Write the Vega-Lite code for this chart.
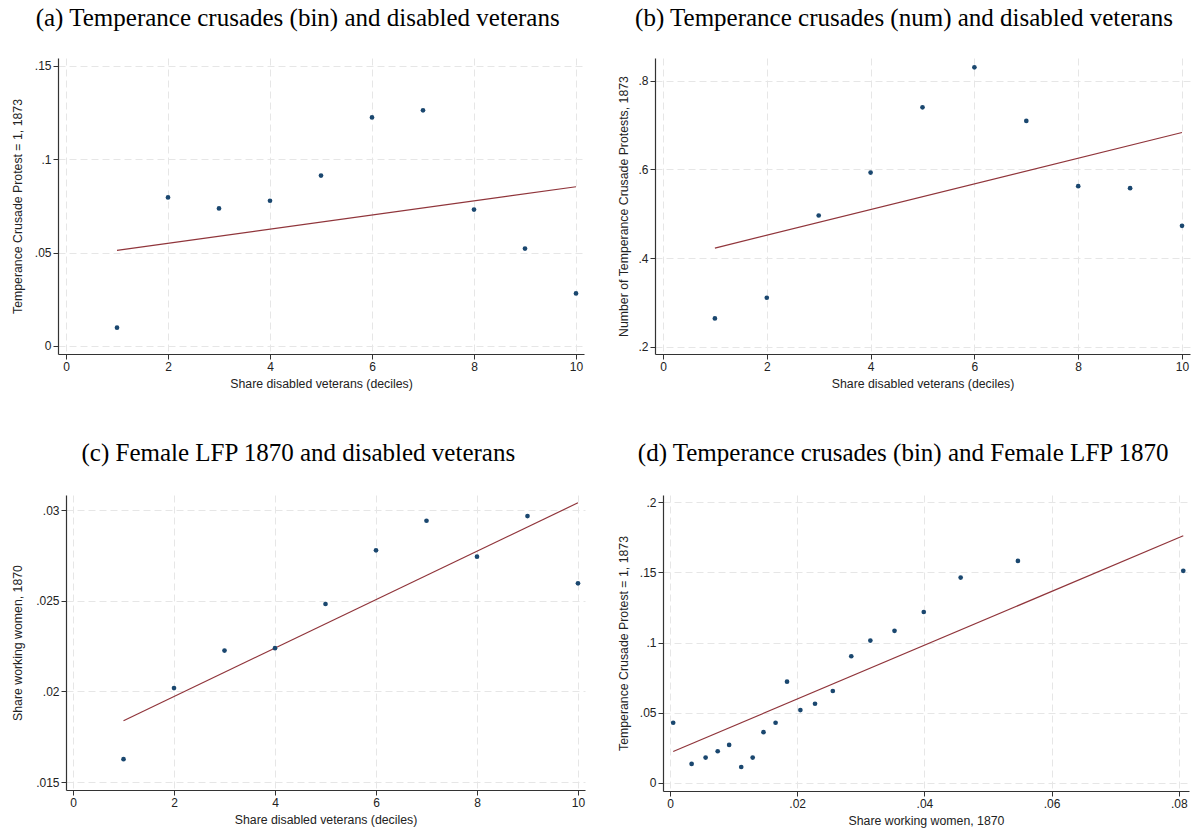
{
  "$schema": "https://vega.github.io/schema/vega-lite/v6.json",
  "background": "white",
  "padding": {"left": 10, "top": 6, "right": 4, "bottom": 4},
  "config": {
    "view": {"stroke": null},
    "font": "Liberation Sans",
    "title": {"font": "Liberation Serif", "fontSize": 25, "fontWeight": "normal", "color": "#000", "anchor": "middle", "frame": "bounds", "offset": 27},
    "axis": {"labelFont": "Liberation Sans", "labelFontSize": 12, "labelColor": "#222", "titleFont": "Liberation Sans", "titleFontSize": 12.3, "titleFontWeight": "normal", "titleColor": "#222", "domainColor": "#333", "domainWidth": 1.2, "tickColor": "#333", "tickSize": 5, "tickWidth": 1, "labelPadding": 2, "labelFlush": false, "gridColor": "#e6e6e6", "gridDash": [7, 4], "gridWidth": 1, "titlePadding": 6}
  },
  "spacing": 31,
  "hconcat": [
    {
      "columns": 2,
      "align": "none",
      "spacing": {"row": 50, "column": 0},
      "concat": [
        {"width": 1, "height": 1, "data": {"values": []}, "mark": "point", "encoding": {}},
        {
          "title": "(a) Temperance crusades (bin) and disabled veterans",
          "width": 526, "height": 296,
          "data": {"values": [
            {"series": "bin", "x": 1, "y": 0.0098}, {"series": "bin", "x": 2, "y": 0.0795}, {"series": "bin", "x": 3, "y": 0.0736},
            {"series": "bin", "x": 4, "y": 0.0777}, {"series": "bin", "x": 5, "y": 0.0912}, {"series": "bin", "x": 6, "y": 0.1223},
            {"series": "bin", "x": 7, "y": 0.1261}, {"series": "bin", "x": 8, "y": 0.073}, {"series": "bin", "x": 9, "y": 0.0521},
            {"series": "bin", "x": 10, "y": 0.0281},
            {"series": "fit", "x": 1, "y": 0.0512}, {"series": "fit", "x": 10, "y": 0.0852}
          ]},
          "encoding": {
            "x": {"field": "x", "type": "quantitative", "scale": {"domain": [-0.157, 10.157], "nice": false, "zero": false},
                  "axis": {"values": [0, 2, 4, 6, 8, 10], "title": "Share disabled veterans (deciles)", "titlePadding": 5}},
            "y": {"field": "y", "type": "quantitative", "scale": {"domain": [-0.0043, 0.1541], "nice": false, "zero": false},
                  "axis": {"values": [0, 0.05, 0.1, 0.15], "title": "Temperance Crusade Protest = 1, 1873", "titlePadding": 10,
                           "labelExpr": "datum.value == 0 ? '0' : slice(format(datum.value, '~r'), 1)"}}
          },
          "layer": [
            {"transform": [{"filter": "datum.series == 'fit'"}], "mark": {"type": "line", "color": "#90353b", "strokeWidth": 1.2}},
            {"transform": [{"filter": "datum.series == 'bin'"}], "mark": {"type": "point", "filled": true, "size": 22, "color": "#1a476f", "opacity": 1}}
          ]
        },
        {"width": 1, "height": 1, "data": {"values": []}, "mark": "point", "encoding": {}},
        {
          "title": {"text": "(c) Female LFP 1870 and disabled veterans", "offset": 29.5},
          "width": 519, "height": 295,
          "data": {"values": [
            {"series": "bin", "x": 1, "y": 0.01626}, {"series": "bin", "x": 2, "y": 0.02018}, {"series": "bin", "x": 3, "y": 0.02225},
            {"series": "bin", "x": 4, "y": 0.02238}, {"series": "bin", "x": 5, "y": 0.02482}, {"series": "bin", "x": 6, "y": 0.02778},
            {"series": "bin", "x": 7, "y": 0.02941}, {"series": "bin", "x": 8, "y": 0.02743}, {"series": "bin", "x": 9, "y": 0.02967},
            {"series": "bin", "x": 10, "y": 0.02596},
            {"series": "fit", "x": 1, "y": 0.01838}, {"series": "fit", "x": 10, "y": 0.0304}
          ]},
          "encoding": {
            "x": {"field": "x", "type": "quantitative", "scale": {"domain": [-0.139, 10.139], "nice": false, "zero": false},
                  "axis": {"values": [0, 2, 4, 6, 8, 10], "title": "Share disabled veterans (deciles)", "titlePadding": 5}},
            "y": {"field": "y", "type": "quantitative", "scale": {"domain": [0.01456, 0.03083], "nice": false, "zero": false},
                  "axis": {"values": [0.015, 0.02, 0.025, 0.03], "title": "Share working women, 1870", "titlePadding": 11,
                           "labelExpr": "datum.value == 0 ? '0' : slice(format(datum.value, '~r'), 1)"}}
          },
          "layer": [
            {"transform": [{"filter": "datum.series == 'fit'"}], "mark": {"type": "line", "color": "#90353b", "strokeWidth": 1.2}},
            {"transform": [{"filter": "datum.series == 'bin'"}], "mark": {"type": "point", "filled": true, "size": 22, "color": "#1a476f", "opacity": 1}}
          ]
        }
      ]
    },
    {
      "columns": 2,
      "align": "none",
      "spacing": {"row": 50, "column": 0},
      "concat": [
        {"width": 1, "height": 1, "data": {"values": []}, "mark": "point", "encoding": {}},
        {
          "title": "(b) Temperance crusades (num) and disabled veterans",
          "width": 535, "height": 296,
          "data": {"values": [
            {"series": "bin", "x": 1, "y": 0.2638}, {"series": "bin", "x": 2, "y": 0.3104}, {"series": "bin", "x": 3, "y": 0.4959},
            {"series": "bin", "x": 4, "y": 0.5928}, {"series": "bin", "x": 5, "y": 0.74}, {"series": "bin", "x": 6, "y": 0.8302},
            {"series": "bin", "x": 7, "y": 0.7093}, {"series": "bin", "x": 8, "y": 0.5621}, {"series": "bin", "x": 9, "y": 0.5575},
            {"series": "bin", "x": 10, "y": 0.4727},
            {"series": "fit", "x": 1, "y": 0.4225}, {"series": "fit", "x": 10, "y": 0.6831}
          ]},
          "encoding": {
            "x": {"field": "x", "type": "quantitative", "scale": {"domain": [-0.154, 10.154], "nice": false, "zero": false},
                  "axis": {"values": [0, 2, 4, 6, 8, 10], "title": "Share disabled veterans (deciles)", "titlePadding": 5}},
            "y": {"field": "y", "type": "quantitative", "scale": {"domain": [0.1835, 0.8512], "nice": false, "zero": false},
                  "axis": {"values": [0.2, 0.4, 0.6, 0.8], "title": "Number of Temperance Crusade Protests, 1873", "titlePadding": 7,
                           "labelExpr": "datum.value == 0 ? '0' : slice(format(datum.value, '~r'), 1)"}}
          },
          "layer": [
            {"transform": [{"filter": "datum.series == 'fit'"}], "mark": {"type": "line", "color": "#90353b", "strokeWidth": 1.2}},
            {"transform": [{"filter": "datum.series == 'bin'"}], "mark": {"type": "point", "filled": true, "size": 22, "color": "#1a476f", "opacity": 1}}
          ]
        },
        {"width": 1, "height": 1, "data": {"values": []}, "mark": "point", "encoding": {}},
        {
          "title": {"text": "(d) Temperance crusades (bin) and Female LFP 1870", "offset": 29.5},
          "width": 526, "height": 296,
          "data": {"values": [
            {"series": "bin", "x": 0.0005, "y": 0.0429}, {"series": "bin", "x": 0.0034, "y": 0.0136}, {"series": "bin", "x": 0.0056, "y": 0.0181},
            {"series": "bin", "x": 0.0075, "y": 0.0226}, {"series": "bin", "x": 0.0093, "y": 0.0271}, {"series": "bin", "x": 0.0112, "y": 0.0114},
            {"series": "bin", "x": 0.013, "y": 0.0181}, {"series": "bin", "x": 0.0147, "y": 0.0362}, {"series": "bin", "x": 0.0166, "y": 0.0429},
            {"series": "bin", "x": 0.0184, "y": 0.0721}, {"series": "bin", "x": 0.0205, "y": 0.0519}, {"series": "bin", "x": 0.0228, "y": 0.0564},
            {"series": "bin", "x": 0.0256, "y": 0.0655}, {"series": "bin", "x": 0.0285, "y": 0.0902}, {"series": "bin", "x": 0.0315, "y": 0.1014},
            {"series": "bin", "x": 0.0353, "y": 0.1083}, {"series": "bin", "x": 0.0399, "y": 0.1217}, {"series": "bin", "x": 0.0457, "y": 0.1462},
            {"series": "bin", "x": 0.0547, "y": 0.1581}, {"series": "bin", "x": 0.0807, "y": 0.151},
            {"series": "fit", "x": 0.0005, "y": 0.0224}, {"series": "fit", "x": 0.0807, "y": 0.176}
          ]},
          "encoding": {
            "x": {"field": "x", "type": "quantitative", "scale": {"domain": [-0.0011, 0.0816], "nice": false, "zero": false},
                  "axis": {"values": [0, 0.02, 0.04, 0.06, 0.08], "title": "Share working women, 1870", "titlePadding": 5,
                           "labelExpr": "datum.value == 0 ? '0' : slice(format(datum.value, '~r'), 1)"}},
            "y": {"field": "y", "type": "quantitative", "scale": {"domain": [-0.0057, 0.205], "nice": false, "zero": false},
                  "axis": {"values": [0, 0.05, 0.1, 0.15, 0.2], "title": "Temperance Crusade Protest = 1, 1873", "titlePadding": 9,
                           "labelExpr": "datum.value == 0 ? '0' : slice(format(datum.value, '~r'), 1)"}}
          },
          "layer": [
            {"transform": [{"filter": "datum.series == 'fit'"}], "mark": {"type": "line", "color": "#90353b", "strokeWidth": 1.2}},
            {"transform": [{"filter": "datum.series == 'bin'"}], "mark": {"type": "point", "filled": true, "size": 22, "color": "#1a476f", "opacity": 1}}
          ]
        }
      ]
    }
  ]
}
